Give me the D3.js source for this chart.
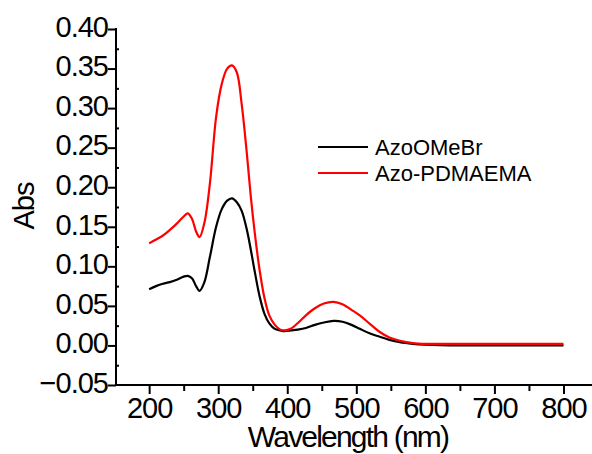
<!DOCTYPE html>
<html>
<head>
<meta charset="utf-8">
<script src="https://cdn.jsdelivr.net/npm/d3@7"></script>
<style>
  body { margin: 0; background: #fff; }
  svg { display: block; font-family: Arial, "Liberation Sans", sans-serif; }
</style>
</head>
<body>
<div id="chart"></div>
<script>
// wavelength (nm) sample points
const wavelength = [200, 210, 220, 230, 240, 250, 256, 262, 268, 273, 280, 288, 297, 305, 313, 320, 327, 334, 341, 347, 353, 360, 367, 374, 382, 390, 396, 405, 415, 427, 440, 453, 467, 480, 493, 505, 520, 534, 548, 563, 582, 600, 650, 700, 750, 800];
const azoOMeBr = [0.071, 0.075, 0.078, 0.080, 0.083, 0.087, 0.088, 0.085, 0.075, 0.069, 0.080, 0.112, 0.150, 0.172, 0.183, 0.186, 0.181, 0.170, 0.148, 0.122, 0.093, 0.062, 0.040, 0.028, 0.021, 0.019, 0.018, 0.019, 0.020, 0.022, 0.026, 0.029, 0.031, 0.030, 0.026, 0.021, 0.015, 0.011, 0.007, 0.004, 0.002, 0.001, 0.000, 0.000, 0.000, 0.000];
const azoPDMAEMA = [0.129, 0.134, 0.139, 0.146, 0.154, 0.163, 0.167, 0.160, 0.144, 0.137, 0.155, 0.205, 0.289, 0.330, 0.350, 0.354, 0.345, 0.305, 0.247, 0.190, 0.142, 0.095, 0.060, 0.038, 0.026, 0.020, 0.019, 0.021, 0.028, 0.038, 0.047, 0.053, 0.055, 0.052, 0.045, 0.038, 0.027, 0.017, 0.010, 0.006, 0.003, 0.002, 0.002, 0.002, 0.002, 0.002];

const xTicks = [200, 300, 400, 500, 600, 700, 800];
const yTicks = [-0.05, 0.00, 0.05, 0.10, 0.15, 0.20, 0.25, 0.30, 0.35, 0.40];

const seriesList = [
  { name: "AzoOMeBr", values: azoOMeBr, color: "#000000" },
  { name: "Azo-PDMAEMA", values: azoPDMAEMA, color: "#ff0000" }
];

const w = 592, h = 454;
const svg = d3.select("#chart").append("svg")
  .attr("width", w)
  .attr("height", h);

// scales
const x = d3.scaleLinear().domain([152, 850]).range([116, 598]);
const y = d3.scaleLinear().domain([-0.05, 0.40]).range([385, 29]);

// x axis (minor, then major)
const xMinor = svg.append("g").attr("transform", "translate(0,385)")
  .call(d3.axisBottom(x).tickValues(d3.range(250, 851, 100)).tickSize(6).tickFormat(""));
xMinor.select(".domain").remove();
xMinor.selectAll("text").remove();
const xMajor = svg.append("g").attr("transform", "translate(0,385)")
  .call(d3.axisBottom(x).tickValues(xTicks).tickSize(9).tickPadding(3).tickFormat(d3.format("d")));
xMajor.select(".domain").remove();
xMajor.selectAll("text")
  .attr("font-size", 29)
  .attr("letter-spacing", -1)
  .attr("fill", "#000")
  .attr("font-family", "Arial, 'Liberation Sans', sans-serif");

// y axis (minor inward, major outward)
const yMinor = svg.append("g").attr("transform", "translate(116,0)")
  .call(d3.axisRight(y).tickValues(d3.range(-0.025, 0.40, 0.05)).tickSize(3).tickFormat(""));
yMinor.select(".domain").remove();
yMinor.selectAll("text").remove();
const yMajor = svg.append("g").attr("transform", "translate(116,0)")
  .call(d3.axisLeft(y).tickValues(yTicks).tickSize(8).tickPadding(0).tickFormat(d3.format(".2f")));
yMajor.select(".domain").remove();
yMajor.selectAll("text")
  .attr("font-size", 29)
  .attr("letter-spacing", -1)
  .attr("dy", "0.25em")
  .attr("fill", "#000")
  .attr("font-family", "Arial, 'Liberation Sans', sans-serif");
svg.selectAll(".tick line").attr("stroke", "#000").attr("stroke-width", 2);

// axis lines
svg.append("line")
  .attr("x1", 116).attr("x2", 116).attr("y1", 28).attr("y2", 386)
  .attr("stroke", "#000").attr("stroke-width", 2);
svg.append("line")
  .attr("x1", 115).attr("x2", w).attr("y1", 385).attr("y2", 385)
  .attr("stroke", "#000").attr("stroke-width", 2);

// curves
const line = d3.line()
  .x((d, i) => x(wavelength[i]))
  .y(d => y(d))
  .curve(d3.curveCatmullRom.alpha(0.5));

seriesList.forEach(s => {
  svg.append("path")
    .datum(s.values)
    .attr("fill", "none")
    .attr("stroke", s.color)
    .attr("stroke-width", 2.2)
    .attr("d", line);
});

// legend
seriesList.forEach((s, i) => {
  const ly = 147 + i * 26;
  svg.append("line")
    .attr("x1", 318).attr("x2", 368).attr("y1", ly).attr("y2", ly)
    .attr("stroke", s.color).attr("stroke-width", 2.2);
  svg.append("text")
    .attr("x", 375).attr("y", ly + 8)
    .attr("font-size", 22)
    .text(s.name);
});

// axis titles
svg.append("text")
  .attr("x", 348).attr("y", 447)
  .attr("text-anchor", "middle")
  .attr("font-size", 30)
  .attr("letter-spacing", -1.8)
  .text("Wavelength (nm)");
svg.append("text")
  .attr("transform", "translate(34,206) rotate(-90)")
  .attr("text-anchor", "middle")
  .attr("font-size", 29)
  .attr("letter-spacing", -1)
  .text("Abs");
</script>
</body>
</html>
